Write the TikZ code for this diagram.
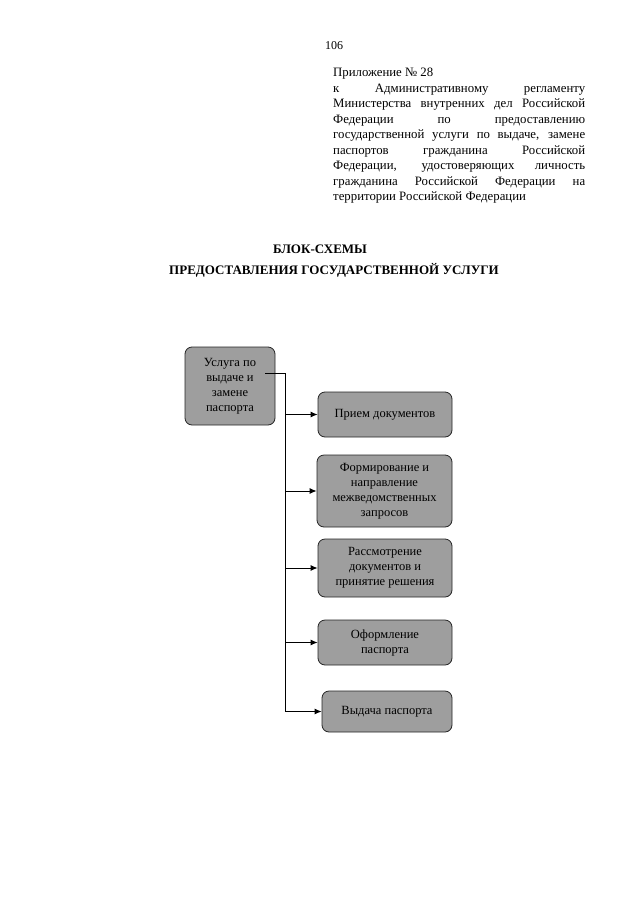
\documentclass[tikz,border=0pt]{standalone}
\usepackage{fontspec}
\setmainfont{Liberation Serif}
\usetikzlibrary{arrows.meta}
\tikzset{
  stepbox/.style={draw=black!85, line width=0.8pt, rounded corners=7pt, fill=black!38,
    align=center, inner sep=1pt, font=\fontsize{12.5}{15}\selectfont},
  arr/.style={draw=black, line width=0.9pt, -{Latex[length=7pt,width=6pt]}},
  link/.style={draw=black, line width=0.9pt}
}
\begin{document}
\begin{tikzpicture}[x=1pt,y=-1pt]
\useasboundingbox (0,0) rectangle (640,905);
\fill[white] (0,0) rectangle (640,905);
% page number
\node[anchor=base west, inner sep=0pt, font=\fontsize{12}{14}\selectfont] (pn) at (325,49) {106};
% header
\node[anchor=north west, inner sep=0pt, text width=252pt, align=justify,
      font=\fontsize{12.8}{15.5}\selectfont] (hdr) at (333,68)
{\setlength{\parindent}{0pt}Приложение № 28\\
к Административному регламенту\linebreak
Министерства внутренних дел Российской\linebreak
Федерации по предоставлению\linebreak
государственной услуги по выдаче, замене\linebreak
паспортов гражданина Российской\linebreak
Федерации, удостоверяющих личность\linebreak
гражданина Российской Федерации на\linebreak
территории Российской Федерации};
% title
\node[inner sep=0pt, font=\bfseries\fontsize{13}{15}\selectfont] (t1) at (320,249) {БЛОК-СХЕМЫ};
\node[inner sep=0pt, font=\bfseries\fontsize{13}{15}\selectfont] (t2) at (334,270) {ПРЕДОСТАВЛЕНИЯ ГОСУДАРСТВЕННОЙ УСЛУГИ};
% boxes
\node[stepbox, minimum width=90pt, minimum height=78pt] (b0) at (230,386) {Услуга по\\выдаче и\\замене\\паспорта};
\node[stepbox, minimum width=134pt, minimum height=45pt] (b1) at (385,414.5) {Прием документов};
\node[stepbox, minimum width=135pt, minimum height=72pt] (b2) at (384.5,491) {Формирование и\\направление\\межведомственных\\запросов};
\node[stepbox, minimum width=134pt, minimum height=58pt] (b3) at (385,568) {Рассмотрение\\документов и\\принятие решения};
\node[stepbox, minimum width=134pt, minimum height=45pt] (b4) at (385,642.5) {Оформление\\паспорта};
\node[stepbox, minimum width=130pt, minimum height=41pt] (b5) at (387,711.5) {Выдача паспорта};
% connectors
\coordinate (j) at (285,373);
\coordinate (s) at (265,373);
\draw[link] (s) -- (j) -- (j |- b5.west);
\draw[arr] (j |- b1.west) -- (b1.west);
\draw[arr] (j |- b2.west) -- (b2.west);
\draw[arr] (j |- b3.west) -- (b3.west);
\draw[arr] (j |- b4.west) -- (b4.west);
\draw[arr] (j |- b5.west) -- (b5.west);
\end{tikzpicture}
\end{document}
